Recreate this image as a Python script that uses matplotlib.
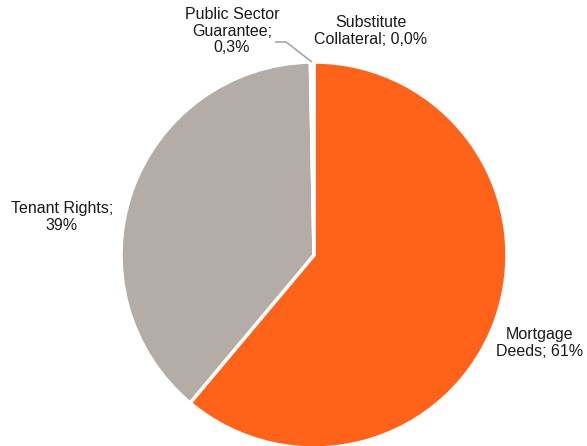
import matplotlib.pyplot as plt

labels = ['Mortgage\nDeeds; 61%', 'Tenant Rights;\n39%', 'Public Sector\nGuarantee;\n0,3%', 'Substitute\nCollateral; 0,0%']
values = [61.1, 38.6, 0.3, 0.0]
colors = ['#FF6319', '#B4ADA7', '#B4ADA7', '#FF6319']

plt.rcParams['font.family'] = ['Liberation Sans', 'DejaVu Sans']

fig = plt.figure(figsize=(5.87, 4.46), dpi=100)
ax = fig.add_axes([0, 0, 1, 1])

H = 446
cx, cy, r = 314, H - 255, 193

# zero-size slice is left out of the drawing, only its label is kept
wedges, _ = ax.pie(values[:3], colors=colors[:3], startangle=90, counterclock=False,
                   center=(cx, cy), radius=r, frame=True,
                   wedgeprops=dict(edgecolor='white', linewidth=2.5))
ax.set_xlim(0, 587)
ax.set_ylim(0, 446)
ax.set_aspect('equal')
ax.axis('off')

# label positions (pixels from top-left)
pos = [(540, 343), (62, 217), (232, 31), (371, 31)]
for lab, (x, y) in zip(labels, pos):
    ax.text(x, H - y, lab, ha='center', va='center', fontsize=11.5,
            color='#1a1a1a', linespacing=1.12)

# leader line for the small slice
ax.plot([275, 286, 312], [H - 42, H - 42, H - 62], color='#A6A6A6', lw=1.2,
        solid_capstyle='butt')

fig.savefig('out.png', dpi=100)
